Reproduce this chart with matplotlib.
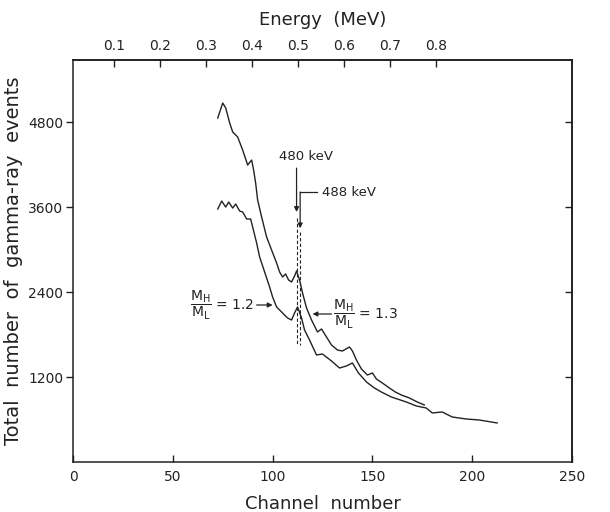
import numpy as np
import matplotlib.pyplot as plt

# spectra read as (channel, counts)
upper_ch = [72.5, 75, 76.5, 78.5, 80, 82.5, 85, 87.5, 89.5, 90.5, 91.5, 92.5, 94.5, 97, 99.5,
            102, 103.5, 105, 106.5, 108, 109.5, 111, 112, 113.5, 115, 117, 119.5, 122.5,
            124.5, 127, 129.5, 132.5, 135, 138.5, 140, 142, 144.5, 147.5, 150, 152, 155,
            158.5, 161.5, 164.5, 168.5, 172.5, 176]
upper_counts = [4857, 5069, 5000, 4787, 4660, 4589, 4405, 4194, 4264, 4120, 3940, 3700, 3459,
                3177, 2993, 2810, 2683, 2612, 2655, 2570, 2542, 2626, 2697, 2570, 2386, 2175,
                2005, 1836, 1878, 1765, 1652, 1581, 1567, 1624, 1567, 1440, 1313, 1228, 1257,
                1172, 1115, 1045, 988, 946, 904, 847, 805]

lower_ch = [72.5, 74.5, 76.5, 78, 80, 81.5, 83.5, 85, 87, 89, 90, 92, 93.5, 96, 98.5, 100,
            102, 105, 107.5, 109.5, 111, 112.5, 114.5, 116, 118.5, 122, 125, 129.5, 133.5,
            137, 140, 143, 147, 151, 154.5, 159.5, 167, 172, 177, 180, 185, 190, 197,
            203.5, 212.5]
lower_counts = [3572, 3685, 3600, 3671, 3586, 3643, 3544, 3530, 3431, 3431, 3318, 3092, 2895,
                2683, 2471, 2330, 2189, 2104, 2033, 2005, 2104, 2189, 2033, 1864, 1723, 1511,
                1525, 1426, 1327, 1356, 1398, 1257, 1130, 1045, 988, 918, 847, 791, 762, 692,
                706, 635, 607, 593, 551]

x_ticks = [0, 50, 100, 150, 200, 250]
y_ticks = [1200, 2400, 3600, 4800]
energy_ticks = [0.1, 0.2, 0.3, 0.4, 0.5, 0.6, 0.7, 0.8]

# channel = gain * E(MeV) + offset
gain, offset = 230.7, -2.57

# channels of the two lines
ch_480, ch_488 = 112, 113.8

ink = '#222222'

fig = plt.figure(figsize=(6.1, 5.12), dpi=100)
ax = fig.add_axes([0.1197, 0.0977, 0.818, 0.785])

ax.plot(upper_ch, upper_counts, color=ink, lw=1.0)
ax.plot(lower_ch, lower_counts, color=ink, lw=1.0)

ax.set_xlim(0, 250)
ax.set_ylim(0, 5676)

ax.set_xticks(x_ticks)
ax.set_xticklabels([str(v) for v in x_ticks])
ax.set_yticks(y_ticks)
ax.set_yticklabels([str(v) for v in y_ticks])
ax.tick_params(axis='x', direction='in', length=5, width=1, labelsize=10, pad=6, colors=ink)
ax.tick_params(axis='y', direction='out', length=5, width=1, labelsize=10, pad=2, colors=ink)
for s in ax.spines.values():
    s.set_linewidth(1.1)
    s.set_color(ink)

# right side ticks point inward, no labels
right = ax.secondary_yaxis('right')
right.set_yticks(y_ticks)
right.tick_params(direction='in', length=5, width=1, labelright=False, colors=ink)
right.spines['right'].set_linewidth(1.1)

ax.set_xlabel('Channel  number', fontsize=13, color=ink, labelpad=8)
ax.set_ylabel('Total  number  of  gamma-ray  events', fontsize=14, color=ink, labelpad=4)

# energy scale on top
top = ax.secondary_xaxis('top', functions=(lambda c: (c - offset) / gain,
                                           lambda e: gain * e + offset))
top.set_xticks(energy_ticks)
top.set_xticklabels([f'{e:.1f}' for e in energy_ticks])
top.tick_params(direction='in', length=5, width=1, labelsize=10, pad=5, colors=ink)
top.set_xlabel('Energy  (MeV)', fontsize=13, color=ink, labelpad=10)
top.spines['top'].set_linewidth(1.1)

# line markers
ax.plot([ch_480, ch_480], [3440, 1650], color=ink, lw=0.8, ls=(0, (3, 2)))
ax.plot([ch_488, ch_488], [3250, 1650], color=ink, lw=0.8, ls=(0, (3, 2)))

arrow = dict(arrowstyle='-|>', color=ink, lw=0.9, mutation_scale=7, shrinkA=0, shrinkB=0)
ax.annotate('', xy=(ch_480, 3530), xytext=(ch_480, 4150), arrowprops=arrow)
ax.text(116.5, 4310, '480 keV', ha='center', va='center', fontsize=9.5, color=ink)
ax.annotate('', xy=(ch_488, 3300), xytext=(ch_488, 3812), arrowprops=arrow)
ax.plot([ch_488, 122], [3812, 3812], color=ink, lw=0.9)
ax.text(124.5, 3812, '488 keV', ha='left', va='center', fontsize=9.5, color=ink)

ax.annotate('', xy=(100, 2217), xytext=(92, 2217), arrowprops=arrow)
ax.text(90.5, 2217, r'$\dfrac{\mathrm{M_H}}{\mathrm{M_L}}$ = 1.2', ha='right', va='center',
        fontsize=10, color=ink)
ax.annotate('', xy=(120, 2090), xytext=(129.5, 2090), arrowprops=arrow)
ax.text(130.5, 2090, r'$\dfrac{\mathrm{M_H}}{\mathrm{M_L}}$ = 1.3', ha='left', va='center',
        fontsize=10, color=ink)

fig.savefig('out.png', dpi=100)
